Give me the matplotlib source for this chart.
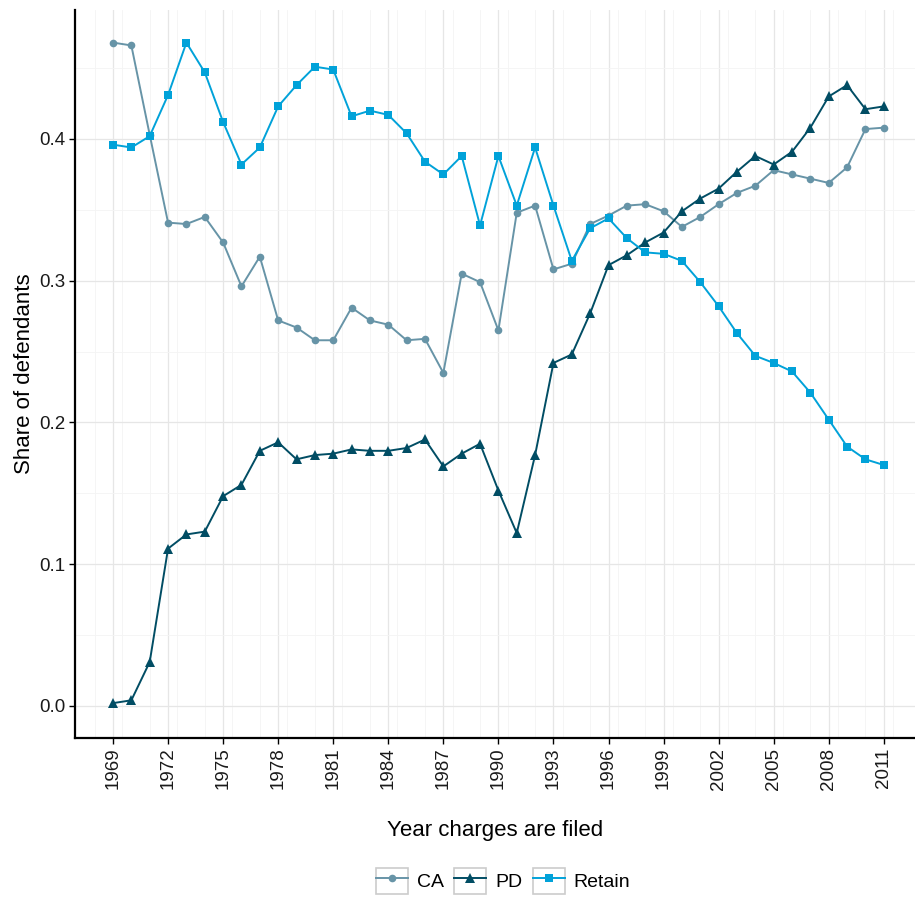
import matplotlib
matplotlib.use("Agg")
import matplotlib.pyplot as plt
from matplotlib.legend_handler import HandlerLine2D
from matplotlib.patches import Rectangle
from matplotlib.ticker import MultipleLocator

plt.rcParams['font.family'] = ['Liberation Sans', 'DejaVu Sans']

years = list(range(1969, 2012))

ca = [0.468, 0.466, 0.403, 0.341, 0.340, 0.345, 0.327, 0.296, 0.317, 0.272,
      0.267, 0.258, 0.258, 0.281, 0.272, 0.269, 0.258, 0.259, 0.235, 0.305,
      0.299, 0.265, 0.348, 0.353, 0.308, 0.312, 0.340, 0.346, 0.353, 0.354,
      0.349, 0.338, 0.345, 0.354, 0.362, 0.367, 0.378, 0.375, 0.372, 0.369,
      0.380, 0.407, 0.408]

pd_ = [0.002, 0.004, 0.031, 0.111, 0.121, 0.123, 0.148, 0.156, 0.180, 0.186,
       0.174, 0.177, 0.178, 0.181, 0.180, 0.180, 0.182, 0.188, 0.169, 0.178,
       0.185, 0.152, 0.122, 0.177, 0.242, 0.248, 0.277, 0.311, 0.318, 0.327,
       0.334, 0.349, 0.358, 0.365, 0.377, 0.388, 0.382, 0.391, 0.408, 0.430,
       0.438, 0.421, 0.423]

retain = [0.396, 0.394, 0.402, 0.431, 0.468, 0.447, 0.412, 0.382, 0.394, 0.423,
          0.438, 0.451, 0.449, 0.416, 0.420, 0.417, 0.404, 0.384, 0.375, 0.388,
          0.339, 0.388, 0.353, 0.394, 0.353, 0.314, 0.337, 0.344, 0.330, 0.320,
          0.319, 0.314, 0.299, 0.282, 0.263, 0.247, 0.242, 0.236, 0.221, 0.202,
          0.183, 0.174, 0.170]

series_names = ["CA", "PD", "Retain"]
colors = ["#6794a7", "#014d64", "#01a2d9"]
markers = ["o", "^", "s"]
msizes = [5.5, 6.5, 6.0]

fig = plt.figure(figsize=(9.15, 8.99), dpi=100)
ax = fig.add_axes([75/915, 1 - 738/899, 1 - 75/915, (738 - 10)/899])

for vals, name, c, m, ms in zip([ca, pd_, retain], series_names, colors, markers, msizes):
    ax.plot(years, vals, color=c, marker=m, markersize=ms, lw=1.4, label=name,
            markeredgewidth=0)

ax.set_xlim(1966.93, 2012.7)
ax.set_ylim(-0.0226, 0.491)

ax.set_xticks(list(range(1969, 2012, 3)))
ax.xaxis.set_minor_locator(MultipleLocator(1.5))
ax.set_yticks([0.0, 0.1, 0.2, 0.3, 0.4])
ax.set_yticklabels(["0.0", "0.1", "0.2", "0.3", "0.4"])
ax.yaxis.set_minor_locator(MultipleLocator(0.05))
ax.tick_params(axis='x', labelrotation=90)

ax.grid(which='major', color='#e6e6e6', lw=0.9)
ax.grid(which='minor', color='#f4f4f4', lw=0.6)
ax.set_axisbelow(True)
ax.tick_params(which='minor', length=0)
ax.tick_params(which='major', length=4, width=1.0, color='black',
               labelsize=13.5, labelcolor='#1a1a1a', pad=3)

for s in ['top', 'right']:
    ax.spines[s].set_visible(False)
for s in ['left', 'bottom']:
    ax.spines[s].set_linewidth(1.6)
    ax.spines[s].set_color('black')

ax.set_xlabel("Year charges are filed", fontsize=16, labelpad=22)
ax.set_ylabel("Share of defendants", fontsize=16, labelpad=3)


class BoxedHandler(HandlerLine2D):
    def create_artists(self, legend, orig_handle, xdescent, ydescent, width,
                       height, fontsize, trans):
        arts = super().create_artists(legend, orig_handle, xdescent, ydescent,
                                      width, height, fontsize, trans)
        rect = Rectangle((-xdescent, -ydescent), width, height, facecolor='white',
                         edgecolor='#cccccc', lw=1.2, transform=trans)
        return [rect] + list(arts)


handles, labels = ax.get_legend_handles_labels()
leg = fig.legend(handles, labels, loc='center', bbox_to_anchor=(503/915, 1 - 881/899),
                 ncol=3, frameon=False, fontsize=14, handlelength=1.65,
                 handleheight=1.65, handletextpad=0.45, columnspacing=0.55,
                 handler_map={h: BoxedHandler(numpoints=1) for h in handles})

fig.savefig("out.png", dpi=100)
